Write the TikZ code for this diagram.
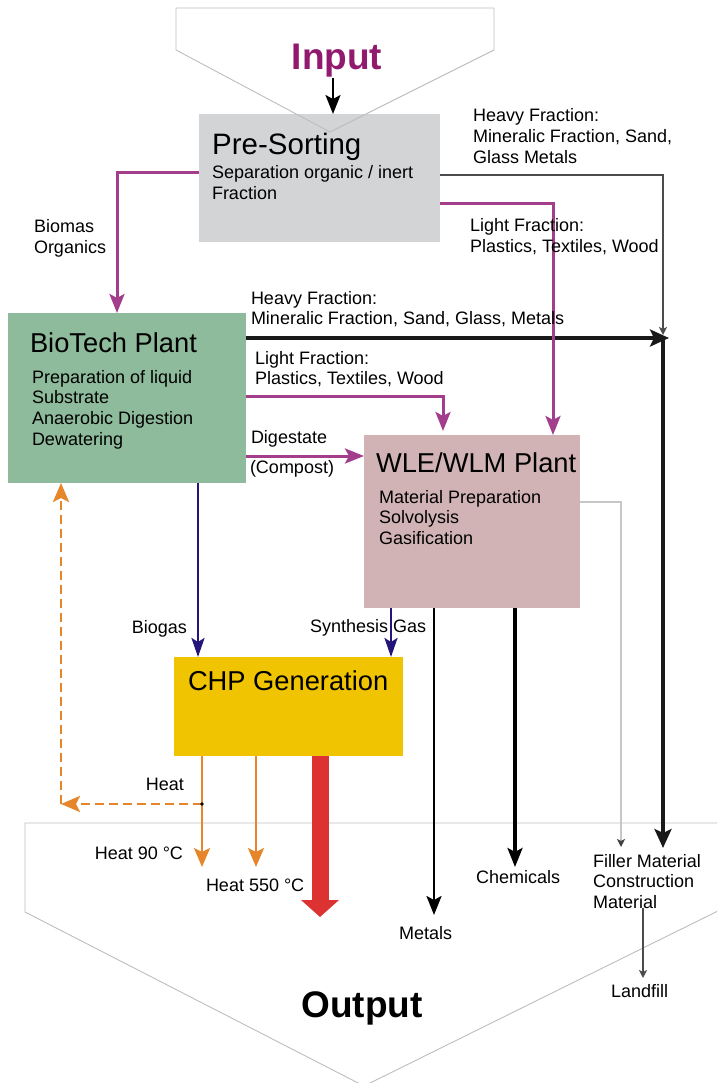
\documentclass[tikz,border=0pt]{standalone}
\usepackage{fontspec}
\setmainfont{Liberation Sans}
\usetikzlibrary{arrows.meta,calc}
\definecolor{preC}{HTML}{D3D4D6}
\definecolor{bioC}{HTML}{8EBB9B}
\definecolor{wleC}{HTML}{D2B3B5}
\definecolor{chpC}{HTML}{F0C400}
\definecolor{purL}{HTML}{A33E8D}
\definecolor{purT}{HTML}{91196E}
\definecolor{navyL}{HTML}{24157A}
\definecolor{orL}{HTML}{E5862A}
\definecolor{redL}{HTML}{DC3232}
\definecolor{funC}{HTML}{BDBDBD}
\newcommand{\txtl}[1]{\begin{tabular}[t]{@{}l@{}}#1\end{tabular}}
\tikzset{
  lbl/.style={inner sep=0pt, outer sep=0pt, font=\fontsize{18}{20.8}\selectfont},
  ttl/.style={inner sep=0pt, outer sep=0pt, font=\fontsize{27.3}{30}\selectfont},
  big/.style={inner sep=0pt, outer sep=0pt, font=\fontsize{37}{40}\selectfont\bfseries},
  box/.style={inner sep=0pt, outer sep=0pt, draw=none},
  funnel/.style={draw=funC, line width=0.9pt, line join=miter},
  parr/.style={draw=purL, line width=3pt, -{Stealth[length=19pt,width=15pt,inset=4pt]}},
  narr/.style={draw=navyL, line width=2.6pt, -{Stealth[length=19pt,width=13pt,inset=4pt]}},
  oarr/.style={draw=orL, line width=2.5pt, -{Stealth[length=19pt,width=16pt,inset=4pt]}},
  odash/.style={draw=orL, line width=2.8pt, dash pattern=on 9pt off 5pt, -{Stealth[length=19pt,width=16pt,inset=4pt]}},
  karr/.style={draw=black, line width=3pt, -{Stealth[length=19pt,width=15pt,inset=4pt]}},
  kthick/.style={draw=black!90, line width=4pt, -{Stealth[length=19pt,width=17pt,inset=4pt]}},
  gthin/.style={draw=black!70, line width=1.3pt, -{Stealth[length=8pt,width=8pt,inset=2pt]}},
  glight/.style={draw=black!22, line width=1.2pt, -{Stealth[length=8pt,width=8pt,inset=2pt,color=black!75]}},
  redarr/.style={draw=redL, line width=17pt, -{Triangle[length=17pt,width=37pt]}}
}
\begin{document}
\begin{tikzpicture}[x=1pt,y=-1pt]
\useasboundingbox (0,0) rectangle (717,1083);
\clip (0,0) rectangle (717,1083);
% boxes
\node[box, fill=preC, minimum width=241pt, minimum height=128pt] (pre) at (319.5,178) {};
\node[box, fill=bioC, minimum width=238pt, minimum height=170pt] (bio) at (127,398) {};
\node[box, fill=wleC, minimum width=216pt, minimum height=173pt] (wle) at (472,521.5) {};
\node[box, fill=chpC, minimum width=229pt, minimum height=99pt] (chp) at (288.5,706.5) {};
% funnels
\draw[funnel] (176,8) -- (494,8) -- (494,50) -- (330,132) -- (176,50) -- cycle;
\draw[funnel] (730,823) -- (25,823) -- (25,912) -- (364,1086) -- (730,905);
% coordinates
\coordinate (inS) at (333,78);
\coordinate (bmC) at (117,173);
\coordinate (hfC) at (663,175);
\coordinate (hfJ) at (663,335);
\coordinate (hbJ) at (669,338);
\coordinate (hvS) at (663,338);
\coordinate (hvE) at (663,848);
\coordinate (lpC) at (553,204);
\coordinate (lbC) at (443,396);
\coordinate (dgC) at (0,456);
\coordinate (gfC) at (621,502);
\coordinate (gfE) at (621,847);
\coordinate (bgC) at (198,0);
\coordinate (sgC) at (391,0);
\coordinate (mtE) at (434,915);
\coordinate (chE) at (515,867);
\coordinate (h9E) at (202,867);
\coordinate (h5E) at (256,867);
\coordinate (rdE) at (320,917);
\coordinate (dJ) at (202,804);
\coordinate (dC) at (61,804);
\coordinate (lfS) at (643,908);
\coordinate (lfE) at (643,978);
% connectors
\draw[karr, line width=2.2pt] (inS) -- (inS |- pre.north);
\draw[parr] (pre.west |- bmC) -- (bmC) -- (bmC |- bio.north);
\draw[gthin] (pre.east |- hfC) -- (hfC) -- (hfJ);
\draw[kthick] (bio.east |- hbJ) -- (hbJ);
\draw[kthick] (hvS) -- (hvE);
\draw[parr] (pre.east |- lpC) -- (lpC) -- (lpC |- wle.north);
\draw[parr, shorten >=4pt] (bio.east |- lbC) -- (lbC) -- (lbC |- wle.north);
\draw[parr] (bio.east |- dgC) -- (wle.west |- dgC);
\draw[glight] (wle.east |- gfC) -- (gfC) -- (gfE);
\draw[narr] (bio.south -| bgC) -- (chp.north -| bgC);
\draw[narr] (wle.south -| sgC) -- (chp.north -| sgC);
\draw[karr, line width=2.6pt] (wle.south -| mtE) -- (mtE);
\draw[karr, line width=3.2pt] (wle.south -| chE) -- (chE);
\draw[oarr] (chp.south -| h9E) -- (h9E);
\draw[oarr] (chp.south -| h5E) -- (h5E);
\draw[redarr] (chp.south -| rdE) -- (rdE);
\draw[odash] (dJ) -- (dC);
\draw[odash] (dC) -- (dC |- bio.south);
\fill (dJ) circle (1.8pt);
\draw[gthin] (lfS) -- (lfE);
% texts
\node[big, text=purT, anchor=base] (tin) at (337,70) {Input};
\node[big, anchor=base] (tout) at (362,1017) {Output};
\node[inner sep=0pt, font=\fontsize{29.5}{32}\selectfont, anchor=base west] (tpre) at (212,155) {Pre-Sorting};
\node[lbl, anchor=base west] (tpre2) at (212,179) {\txtl{Separation organic / inert\\Fraction}};
\node[lbl, anchor=base west] (thf1) at (473,122) {\txtl{Heavy Fraction:\\Mineralic Fraction, Sand,\\Glass Metals}};
\node[lbl, anchor=base west] (tlf1) at (470,232) {\txtl{Light Fraction:\\Plastics, Textiles, Wood}};
\node[lbl, anchor=base west] (tbm) at (34,233) {\txtl{Biomas\\Organics}};
\node[lbl, anchor=base west] (thf2) at (251,304) {\txtl{Heavy Fraction:\\Mineralic Fraction, Sand, Glass, Metals}};
\node[ttl, anchor=base west] (tbio) at (30,352) {BioTech Plant};
\node[lbl, anchor=base west] (tbio2) at (32,383) {\txtl{Preparation of liquid\\Substrate\\Anaerobic Digestion\\Dewatering}};
\node[lbl, anchor=base west] (tlf2) at (255,364) {\txtl{Light Fraction:\\Plastics, Textiles, Wood}};
\node[lbl, anchor=base west] (tdg) at (251,443) {Digestate};
\node[lbl, anchor=base west] (tcp) at (250,473) {(Compost)};
\node[ttl, anchor=base west] (twle) at (376,472) {WLE/WLM Plant};
\node[lbl, anchor=base west] (twle2) at (379,503) {\txtl{Material Preparation\\Solvolysis\\Gasification}};
\node[lbl, anchor=base east] (tbg) at (187,633) {Biogas};
\node[lbl, anchor=base west] (tsg) at (310,632) {Synthesis Gas};
\node[ttl, anchor=base west] (tchp) at (188,690) {CHP Generation};
\node[lbl, anchor=base east] (theat) at (184,790) {Heat};
\node[lbl, anchor=base east] (th9) at (183,859) {Heat 90 °C};
\node[lbl, anchor=base west] (th5) at (206,891) {Heat 550 °C};
\node[lbl, anchor=base west] (tmt) at (399,939) {Metals};
\node[lbl, anchor=base west] (tch) at (476,883) {Chemicals};
\node[lbl, anchor=base west] (tfl) at (593,867) {\txtl{Filler Material\\Construction\\Material}};
\node[lbl, anchor=base west] (tlf) at (611,997) {Landfill};
\end{tikzpicture}
\end{document}
